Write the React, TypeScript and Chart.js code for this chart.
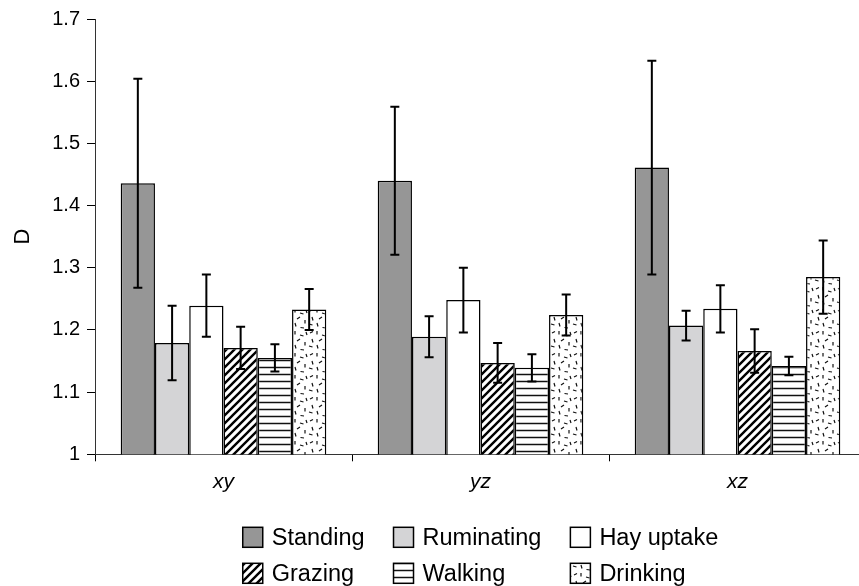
import React, { useEffect, useRef } from 'react';
import { Chart, registerables } from 'chart.js';

Chart.register(...registerables);

const categories = ['xy', 'yz', 'xz'];
const seriesNames = ['Standing', 'Ruminating', 'Hay uptake', 'Grazing', 'Walking', 'Drinking'];

const standing = [1.436, 1.440, 1.461];
const standingErr = [0.168, 0.119, 0.172];
const ruminating = [1.179, 1.189, 1.207];
const ruminatingErr = [0.060, 0.033, 0.024];
const hayUptake = [1.239, 1.248, 1.234];
const hayUptakeErr = [0.050, 0.052, 0.038];
const grazing = [1.171, 1.147, 1.166];
const grazingErr = [0.034, 0.032, 0.035];
const walking = [1.155, 1.139, 1.142];
const walkingErr = [0.022, 0.022, 0.015];
const drinking = [1.233, 1.224, 1.285];
const drinkingErr = [0.033, 0.033, 0.059];

const yMin = 1;
const yMax = 1.7;
const yStep = 0.1;
const yTitle = 'D';

const FONT = '"Liberation Sans", Arial, Helvetica, sans-serif';

function makeTile(w: number, h: number, draw: (c: CanvasRenderingContext2D) => void): CanvasPattern | string {
  const cv = document.createElement('canvas');
  cv.width = w;
  cv.height = h;
  const c = cv.getContext('2d');
  if (!c) return '#fff';
  c.fillStyle = '#fff';
  c.fillRect(0, 0, w, h);
  draw(c);
  const p = c.createPattern(cv, 'repeat');
  return p || '#fff';
}

function diagPattern() {
  return makeTile(8, 8, (c) => {
    c.strokeStyle = '#000';
    c.lineWidth = 2.4;
    c.beginPath();
    c.moveTo(-2, 10); c.lineTo(10, -2);
    c.moveTo(-6, 6); c.lineTo(6, -6);
    c.moveTo(2, 14); c.lineTo(14, 2);
    c.stroke();
  });
}

function horizPattern() {
  return makeTile(8, 7, (c) => {
    c.strokeStyle = '#111';
    c.lineWidth = 1.5;
    c.beginPath();
    c.moveTo(0, 3.5); c.lineTo(8, 3.5);
    c.stroke();
  });
}

function dashPattern() {
  const segs = [
    [2, 3, 5, 1.5], [9, 1, 9, 4.5], [14, 5, 17.5, 6], [4, 9, 5, 12.5], [11, 11, 14, 9],
    [19, 12, 19, 15.5], [1, 16, 4.5, 17], [9, 15, 10, 18.5], [14.5, 19.5, 18, 20], [20, 2, 21, 5],
  ];
  return makeTile(22, 22, (c) => {
    c.strokeStyle = '#111';
    c.lineWidth = 1.2;
    c.beginPath();
    segs.forEach(([a, b, d, e]) => { c.moveTo(a, b); c.lineTo(d, e); });
    c.stroke();
  });
}

const errorBarPlugin = {
  id: 'errorBars',
  afterDatasetsDraw(chart: any) {
    const { ctx } = chart;
    const yScale = chart.scales.y;
    ctx.save();
    ctx.strokeStyle = '#000';
    ctx.lineWidth = 2;
    chart.data.datasets.forEach((ds: any, di: number) => {
      const meta = chart.getDatasetMeta(di);
      meta.data.forEach((bar: any, i: number) => {
        const v = ds.data[i];
        const e = ds.errors[i];
        const x = bar.x;
        const yt = yScale.getPixelForValue(v + e);
        const yb = yScale.getPixelForValue(v - e);
        const cap = 4.5;
        ctx.beginPath();
        ctx.moveTo(x, yt); ctx.lineTo(x, yb);
        ctx.moveTo(x - cap, yt); ctx.lineTo(x + cap, yt);
        ctx.moveTo(x - cap, yb); ctx.lineTo(x + cap, yb);
        ctx.stroke();
      });
    });
    ctx.restore();
  },
};

const gridLegendPlugin = {
  id: 'gridLegend',
  afterDraw(chart: any) {
    const { ctx, chartArea } = chart;
    const ds = chart.data.datasets;
    const cols = 3;
    const box = 20;
    const gap = 9;
    const colSpace = 29;
    const rowGap = 36;
    const rows = Math.ceil(ds.length / cols);
    ctx.save();
    ctx.font = '23.5px ' + FONT;
    const colW: number[] = [];
    for (let c = 0; c < cols; c++) {
      let m = 0;
      for (let r = 0; r < rows; r++) {
        const d = ds[r * cols + c];
        if (d) m = Math.max(m, ctx.measureText(d.label).width);
      }
      colW.push(box + gap + m);
    }
    const total = colW.reduce((a, b) => a + b, 0) + colSpace * (cols - 1);
    const cx = (chartArea.left + chartArea.right) / 2;
    const x0 = cx - total / 2;
    const y0 = chartArea.bottom + 83;
    for (let r = 0; r < rows; r++) {
      let x = x0;
      for (let c = 0; c < cols; c++) {
        const d = ds[r * cols + c];
        if (d) {
          const y = y0 + r * rowGap;
          ctx.fillStyle = d.backgroundColor;
          ctx.fillRect(x, y - box / 2, box, box);
          ctx.strokeStyle = '#000';
          ctx.lineWidth = 1.5;
          ctx.strokeRect(x, y - box / 2, box, box);
          ctx.fillStyle = '#000';
          ctx.textBaseline = 'middle';
          ctx.textAlign = 'left';
          ctx.fillText(d.label, x + box + gap, y + 1);
        }
        x += colW[c] + colSpace;
      }
    }
    ctx.restore();
  },
};

export default function App() {
  const ref = useRef<HTMLCanvasElement | null>(null);

  useEffect(() => {
    if (!ref.current) return;
    const fills = ['#969696', '#d4d4d6', '#ffffff', diagPattern(), horizPattern(), dashPattern()];
    const values = [standing, ruminating, hayUptake, grazing, walking, drinking];
    const errs = [standingErr, ruminatingErr, hayUptakeErr, grazingErr, walkingErr, drinkingErr];

    const chart = new Chart(ref.current, {
      type: 'bar',
      data: {
        labels: categories,
        datasets: seriesNames.map((name, i) => ({
          label: name,
          data: values[i],
          errors: errs[i],
          backgroundColor: fills[i],
          borderColor: '#000',
          borderWidth: 1.5,
          categoryPercentage: 0.8,
          barPercentage: 1,
        })) as any,
      },
      options: {
        animation: false,
        responsive: false,
        devicePixelRatio: 1,
        layout: { padding: { left: 0, right: 2, top: 19, bottom: 0 } },
        plugins: {
          legend: { display: false },
          tooltip: { enabled: false },
        },
        scales: {
          x: {
            afterFit: (s: any) => { s.height = 586 - 454.3; },
            grid: {
              display: true,
              drawOnChartArea: false,
              drawTicks: true,
              tickLength: 7,
              offset: true,
              color: '#000',
              lineWidth: 1,
            },
            border: { display: true, color: '#333', width: 1 },
            ticks: {
              color: '#000',
              padding: 8,
              font: { family: FONT, size: 21, style: 'italic' },
            },
          },
          y: {
            min: yMin,
            max: yMax,
            afterFit: (s: any) => { s.width = 95; },
            title: {
              display: true,
              text: yTitle,
              color: '#000',
              padding: { top: 10, bottom: 0 },
              font: { family: FONT, size: 22 },
            },
            grid: {
              display: true,
              drawOnChartArea: false,
              drawTicks: true,
              tickLength: 8,
              color: '#000',
              lineWidth: 1,
            },
            border: { display: true, color: '#333', width: 1 },
            ticks: {
              stepSize: yStep,
              color: '#000',
              padding: 7,
              font: { family: FONT, size: 20 },
              callback: (v: any) => String(Number(Number(v).toFixed(1))),
            },
          },
        },
      } as any,
      plugins: [errorBarPlugin, gridLegendPlugin],
    });
    return () => chart.destroy();
  }, []);

  return (
    <div style={{ position: 'fixed', left: 0, top: 0, width: 859, height: 586, overflow: 'hidden', background: '#fff' }}>
      <canvas ref={ref} width={868} height={586} style={{ display: 'block', width: 868, height: 586 }} />
    </div>
  );
}
